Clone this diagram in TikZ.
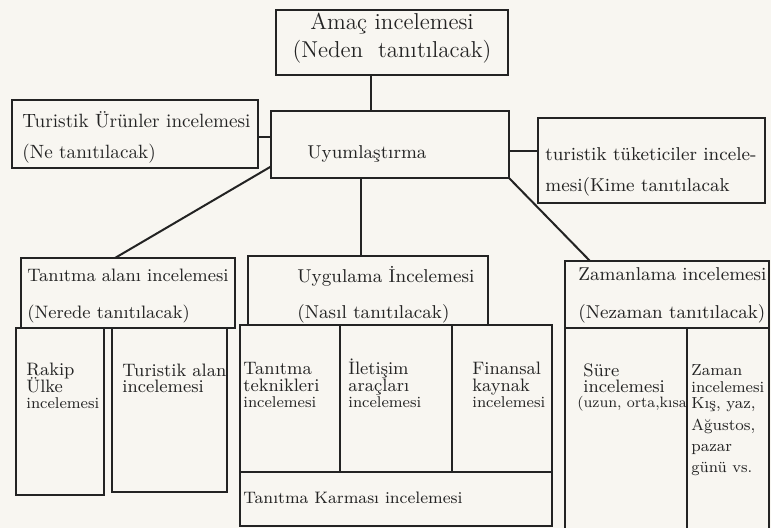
\documentclass[tikz,border=0pt]{standalone}
\usepackage{fontspec}
\usepackage{tikz}
\usetikzlibrary{positioning}
\definecolor{paper}{RGB}{248,246,241}
\definecolor{ink}{RGB}{35,35,35}
\lineskiplimit=-20pt
\newcommand{\fbig}{\fontsize{11.5}{14}\selectfont}
\newcommand{\fmid}{\fontsize{9.3}{11.5}\selectfont}
\newcommand{\fcol}{\fontsize{9}{8.3}\selectfont}
\newcommand{\fzcol}{\fontsize{8}{8.3}\selectfont}
\newcommand{\fsml}{\fontsize{7.8}{8.3}\selectfont}

\begin{document}
\begin{tikzpicture}[x=0.5pt, y=-0.5pt,
	box/.style={draw=ink, line width=1pt, anchor=north west, inner sep=0pt, outer sep=0pt},
	lbl/.style={anchor=base west, inner sep=0pt, align=left, text=ink, font=\fmid}
	]
		\useasboundingbox (0,0) rectangle (771,528);
		\fill[paper] (0,0) rectangle (771,528);
		\clip (0,0) rectangle (771,528);
		
		% upper row
		\node[box, minimum width=116pt, minimum height=32.5pt]	(amac)		at (276,10)		{};
		\node[box, minimum width=119pt, minimum height=33.5pt]	(uyum)		at (271,111)	{};
		\node[box, minimum width=123pt, minimum height=34pt]	(urun)		at (12,100)		{};
		\node[box, minimum width=113.5pt, minimum height=42.5pt]	(tuketici)	at (538,118)	{};
		
		% second row
		\node[box, minimum width=107pt, minimum height=35pt]	(alan)		at (21,258)		{};
		\node[box, minimum width=120pt, minimum height=34.5pt]	(uygulama)	at (248,256)	{};
		\node[box, minimum width=102pt, minimum height=33.5pt]	(zamanlama)	at (565,261)	{};
		
		% lower boxes
		\node[box, minimum width=44pt, minimum height=83.5pt]	(rakip)		at (16,328)		{};
		\node[box, minimum width=57.5pt, minimum height=82pt]	(turalan)	at (112,328)	{};
		\node[box, minimum width=50pt, minimum height=73.5pt]	(teknik)	at (240,325)	{};
		\node[box, minimum width=56pt, minimum height=73.5pt]	(iletisim)	at (340,325)	{};
		\node[box, minimum width=50pt, minimum height=73.5pt]	(finans)	at (452,325)	{};
		\node[box, minimum width=156pt, minimum height=27pt]	(karma)		at (240,472)	{};
		\node[box, minimum width=61pt, minimum height=107.5pt]	(sure)		at (565,328)	{};
		\node[box, minimum width=41pt, minimum height=107.5pt]	(zamanc)	at (687,328)	{};
		
		% texts (anchored at the baseline of the last line)
		\node[lbl, font=\fbig, anchor=base, align=center]	(amactxt)	at (392,58)	{Amaç incelemesi\\(Neden\ \ tanıtılacak)};
		\node[lbl]	(uyumtxt)		at (307,159)	{Uyumlaştırma};
		\node[lbl, font=\fontsize{9.6}{11.5}\selectfont]	(uruntxt)	at (22,159)	{Turistik Ürünler incelemesi\\[4pt](Ne tanıtılacak)};
		\node[lbl]	(tuketicitxt)	at (545,192)	{turistik tüketiciler incele-\\[4pt]mesi(Kime tanıtılacak};
		\node[lbl, font=\fontsize{9}{11.5}\selectfont]	(alantxt)	at (27,319)	{Tanıtma alanı incelemesi\\[7pt](Nerede tanıtılacak)};
		\node[lbl]	(uygulamatxt)	at (297,319)	{Uygulama İncelemesi\\[6.5pt](Nasıl tanıtılacak)};
		\node[lbl]	(zamanlamatxt)	at (578,319)	{Zamanlama incelemesi\\[7.5pt](Nezaman tanıtılacak)};
		
		\node[lbl, font=\fcol]	(rakiptxt)		at (26,409)		{Rakip\\Ülke\\{\fsml incelemesi}};
		\node[lbl, font=\fcol]	(turalantxt)	at (122,393)	{Turistik alan\\incelemesi};
		\node[lbl, font=\fcol]	(tekniktxt)		at (243,408)	{Tanıtma\\teknikleri\\{\fsml incelemesi}};
		\node[lbl, font=\fcol]	(iletisimtxt)	at (348,408)	{İletişim\\araçları\\{\fsml incelemesi}};
		\node[lbl, font=\fcol]	(finanstxt)		at (472,408)	{Finansal\\kaynak\\{\fsml incelemesi}};
		\node[lbl, font=\fontsize{8.3}{10}\selectfont]	(karmatxt)	at (243,504)	{Tanıtma Karması incelemesi};
		\node[lbl, font=\fcol]	(suretxt)		at (583,393)	{Süre\\incelemesi};
		\node[lbl, font=\fontsize{7.5}{9}\selectfont]	(surealt)	at (577,408)	{(uzun, orta,kısa};
		\node[lbl, font=\fzcol]	(zamanctxt)		at (691,473)	{Zaman\\{\fsml incelemesi}\\Kış, yaz,\\[2.3pt]Ağustos,\\[2.5pt]pazar\\[2.3pt]{\fsml günü vs.}};
		
		% connectors
		\draw[ink, line width=1pt] ([xshift=-10.5pt]amac.south) -- ([xshift=-10.5pt]amac.south |- uyum.north);
		\draw[ink, line width=1pt] ([yshift=-1.5pt]urun.east) -- ([yshift=-1.5pt]urun.east -| uyum.west);
		\draw[ink, line width=1pt] ([yshift=4.5pt]tuketici.west) -- ([yshift=4.5pt]tuketici.west -| uyum.east);
		\draw[ink, line width=1pt] ([yshift=-11pt]uyum.west) -- ([xshift=-6.5pt]alan.north);
		\draw[ink, line width=1pt] ([xshift=-3.5pt]uygulama.north) -- ([xshift=-3.5pt]uygulama.north |- uyum.south);
		\draw[ink, line width=1pt] (uyum.south east) -- ([xshift=-38.5pt]zamanlama.north);
	\end{tikzpicture}
\end{document}
